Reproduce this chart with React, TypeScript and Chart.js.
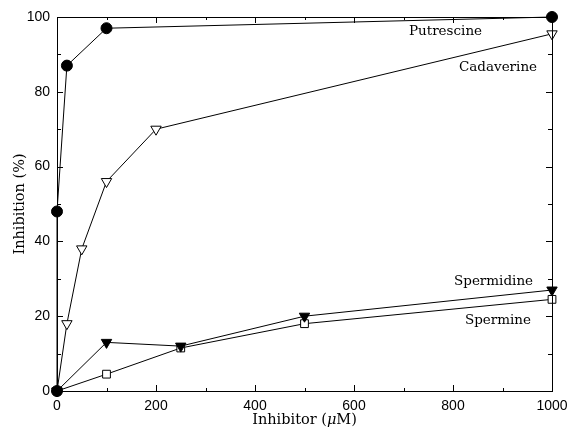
import React, { useEffect, useRef } from "react";
import { Chart, registerables } from "chart.js";

Chart.register(...registerables);

const putrescineX = [0, 0, 20, 100, 1000];
const putrescineY = [0, 48, 87, 97, 100];
const cadaverineX = [0, 20, 50, 100, 200, 1000];
const cadaverineY = [0, 18, 38, 56, 70, 95.5];
const spermidineX = [0, 100, 250, 500, 1000];
const spermidineY = [0, 13, 12, 20, 27];
const spermineX = [0, 100, 250, 500, 1000];
const spermineY = [0, 4.5, 11.5, 18, 24.5];

const seriesLabels = ["Putrescine", "Cadaverine", "Spermidine", "Spermine"];
const labelX = [711, 812, 802, 824];
const labelY = [96, 86.5, 29.4, 18.9];

const xMajor = [0, 200, 400, 600, 800, 1000];
const xMinor = [100, 300, 500, 700, 900];
const yMajor = [0, 20, 40, 60, 80, 100];
const yMinor = [10, 30, 50, 70, 90];

const xTitleParts = ["Inhibitor (", "μ", "M)"];
const yTitle = "Inhibition (%)";

const toPts = (xs: number[], ys: number[]) => xs.map((x, i) => ({ x, y: ys[i] }));

const SERIF = "'DejaVu Serif', serif";

const framePlugin = {
  id: "frame",
  afterDatasetsDraw(chart: any) {
    const { ctx, chartArea: a, scales } = chart;
    const xs = scales.x;
    const ys = scales.y;
    ctx.save();
    ctx.strokeStyle = "#000";
    ctx.lineWidth = 1;
    ctx.strokeRect(a.left + 0.5, a.top + 0.5, a.right - a.left, a.bottom - a.top);
    ctx.beginPath();
    const xt = (v: number, len: number) => {
      const p = Math.round(xs.getPixelForValue(v)) + 0.5;
      ctx.moveTo(p, a.bottom);
      ctx.lineTo(p, a.bottom - len);
      ctx.moveTo(p, a.top);
      ctx.lineTo(p, a.top + len);
    };
    const yt = (v: number, len: number) => {
      const p = Math.round(ys.getPixelForValue(v)) + 0.5;
      ctx.moveTo(a.left, p);
      ctx.lineTo(a.left + len, p);
      ctx.moveTo(a.right, p);
      ctx.lineTo(a.right - len, p);
    };
    xMajor.forEach((v) => xt(v, 6));
    xMinor.forEach((v) => xt(v, 3));
    yMajor.forEach((v) => yt(v, 6));
    yMinor.forEach((v) => yt(v, 4));
    ctx.stroke();

    ctx.fillStyle = "#000";
    ctx.font = `13.5px ${SERIF}`;
    ctx.textAlign = "left";
    ctx.textBaseline = "middle";
    seriesLabels.forEach((t, i) => {
      ctx.fillText(t, xs.getPixelForValue(labelX[i]), ys.getPixelForValue(labelY[i]));
    });

    // x title with italic mu
    const fonts = [`14.5px ${SERIF}`, `italic 14.5px ${SERIF}`, `14.5px ${SERIF}`];
    let total = 0;
    const widths = xTitleParts.map((p, i) => {
      ctx.font = fonts[i];
      const w = ctx.measureText(p).width;
      total += w;
      return w;
    });
    let x0 = (a.left + a.right) / 2 - total / 2;
    const ty = a.bottom + 29;
    xTitleParts.forEach((p, i) => {
      ctx.font = fonts[i];
      ctx.fillText(p, x0, ty);
      x0 += widths[i];
    });

    // y title
    ctx.save();
    ctx.font = `14.5px ${SERIF}`;
    ctx.textAlign = "center";
    ctx.translate(20, (a.top + a.bottom) / 2);
    ctx.rotate(-Math.PI / 2);
    ctx.fillText(yTitle, 0, 0);
    ctx.restore();
    ctx.restore();
  },
};

export default function App() {
  const ref = useRef<HTMLCanvasElement>(null);
  useEffect(() => {
    if (!ref.current) return;
    const common = {
      borderColor: "#000",
      borderWidth: 1,
      pointBorderWidth: 1,
      tension: 0,
      clip: false as any,
      pointBorderColor: "#000",
      showLine: true,
    };
    const tickFont = { family: "'Liberation Sans', Arial, sans-serif", size: 14 };
    const chart = new Chart(ref.current, {
      type: "scatter",
      data: {
        datasets: [
          {
            ...common,
            label: "Putrescine",
            data: toPts(putrescineX, putrescineY),
            pointStyle: "circle",
            pointRadius: 5.5,
            pointBackgroundColor: "#000",
          },
          {
            ...common,
            label: "Cadaverine",
            data: toPts(cadaverineX, cadaverineY),
            pointStyle: "triangle",
            pointRotation: 180,
            pointRadius: 6,
            pointBackgroundColor: "#fff",
          },
          {
            ...common,
            label: "Spermidine",
            data: toPts(spermidineX, spermidineY),
            pointStyle: "triangle",
            pointRotation: 180,
            pointRadius: 6,
            pointBackgroundColor: "#000",
          },
          {
            ...common,
            label: "Spermine",
            data: toPts(spermineX, spermineY),
            pointStyle: "rect",
            pointRadius: 5.5,
            pointBackgroundColor: "#fff",
          },
        ],
      },
      options: {
        animation: false,
        responsive: false,
        maintainAspectRatio: false,
        layout: { padding: { left: 0, top: 17, right: 17, bottom: 0 } },
        plugins: { legend: { display: false }, tooltip: { enabled: false } },
        scales: {
          x: {
            type: "linear",
            min: 0,
            max: 1000,
            grid: { display: false, drawTicks: false },
            border: { display: false },
            ticks: {
              stepSize: 200,
              padding: 7,
              color: "#000",
              font: tickFont,
              maxRotation: 0,
              callback: (v: any) => String(v),
            },
            afterFit: (s: any) => {
              s.height = 37;
              s.paddingLeft = 0;
              s.paddingRight = 0;
            },
          },
          y: {
            type: "linear",
            min: 0,
            max: 100,
            grid: { display: false, drawTicks: false },
            border: { display: false },
            ticks: {
              stepSize: 20,
              padding: 7,
              color: "#000",
              font: tickFont,
              callback: (v: any) => String(v),
            },
            afterFit: (s: any) => {
              s.width = 57;
              s.paddingTop = 0;
              s.paddingBottom = 0;
            },
          },
        },
      },
      plugins: [framePlugin],
    } as any);
    return () => chart.destroy();
  }, []);
  return (
    <div style={{ position: "fixed", left: 0, top: 0, width: 569, height: 428, background: "#fff" }}>
      <canvas ref={ref} width={569} height={428} style={{ display: "block" }} />
    </div>
  );
}
